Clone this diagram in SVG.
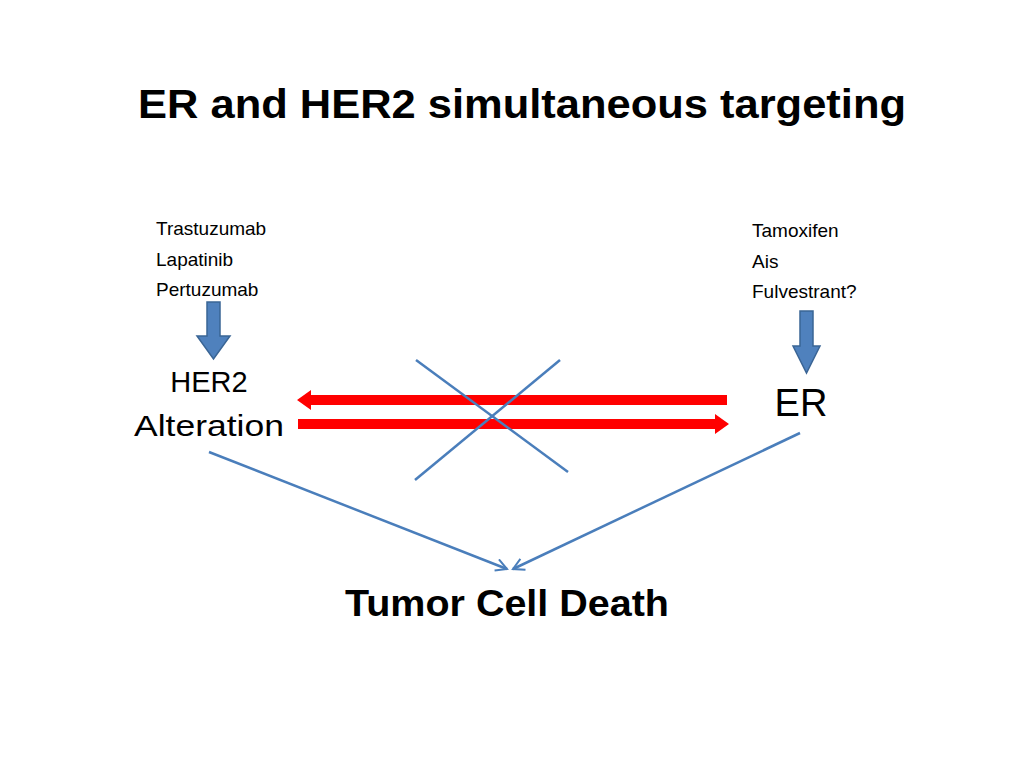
<svg xmlns="http://www.w3.org/2000/svg" width="1024" height="768" viewBox="0 0 1024 768">
<defs>
<style>
text{font-family:"Liberation Sans",Arial,sans-serif;fill:#000}
.s{font-size:19px}
.blk{fill:#4f81bd;stroke:#3a6595;stroke-width:1.5}
.ln{stroke:#4a7ebb;stroke-width:2.5;fill:none}
</style>
<marker id="open" markerWidth="14" markerHeight="14" refX="12" refY="7" orient="auto" markerUnits="userSpaceOnUse"><path d="M1,1 L12,7 L1,13" fill="none" stroke="#4a7ebb" stroke-width="2"/></marker>
</defs>
<rect width="1024" height="768" fill="#fff"/>
<text x="522" y="118" text-anchor="middle" font-size="40" font-weight="bold" textLength="768" lengthAdjust="spacingAndGlyphs">ER and HER2 simultaneous targeting</text>
<g id="her2drugs">
<text class="s" x="156" y="235">Trastuzumab</text>
<text class="s" x="156" y="266">Lapatinib</text>
<text class="s" x="156" y="296">Pertuzumab</text>
<path class="blk" d="M207,302 H220 V336 H230 L213.5,359 L197,336 H207 Z"/>
</g>
<g id="erdrugs">
<text class="s" x="752" y="237">Tamoxifen</text>
<text class="s" x="752" y="268">Ais</text>
<text class="s" x="752" y="298">Fulvestrant?</text>
<path class="blk" d="M800,311 H813 V346 H820 L806.5,373 L793,346 H800 Z"/>
</g>
<g id="her2">
<text x="209" y="392" text-anchor="middle" font-size="29">HER2</text>
<text x="209" y="436" text-anchor="middle" font-size="29" textLength="150" lengthAdjust="spacingAndGlyphs">Alteration</text>
</g>
<g id="er"><text x="801" y="416" text-anchor="middle" font-size="38">ER</text></g>
<g id="death"><text x="507" y="616" text-anchor="middle" font-size="36" font-weight="bold" textLength="324" lengthAdjust="spacingAndGlyphs">Tumor Cell Death</text></g>
<g id="connectors">
<path d="M727,395 H311 V390 L297,400 L311,410 V405 H727 Z" fill="#ff0000"/>
<path d="M298,419 H715 V414 L729,424 L715,434 V429 H298 Z" fill="#ff0000"/>
<line class="ln" x1="416" y1="360" x2="568" y2="472"/>
<line class="ln" x1="415" y1="480" x2="560" y2="360"/>
<line class="ln" x1="209" y1="452" x2="507" y2="569" marker-end="url(#open)"/>
<line class="ln" x1="800" y1="433" x2="513" y2="569" marker-end="url(#open)"/>
</g>
</svg>
